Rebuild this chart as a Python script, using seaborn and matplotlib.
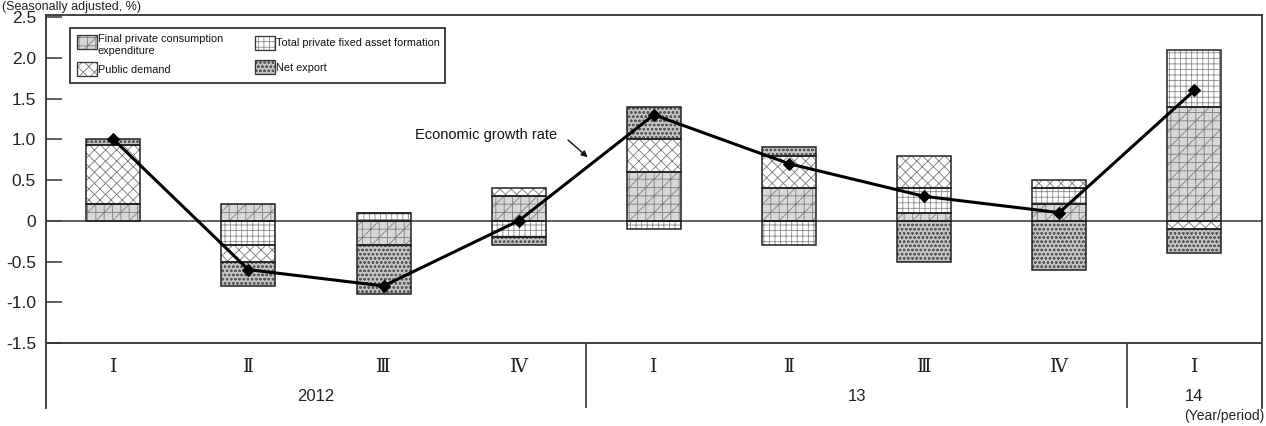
import matplotlib
matplotlib.use("Agg")
import matplotlib.pyplot as plt
from matplotlib.patches import Rectangle
from matplotlib import font_manager
import seaborn as sns
import numpy as np

# Contributions to real GDP growth (quarter on quarter, seasonally adjusted, %)
quarters = ["Ⅰ", "Ⅱ", "Ⅲ", "Ⅳ", "Ⅰ", "Ⅱ", "Ⅲ", "Ⅳ", "Ⅰ"]
years = ["2012", "13", "14"]
year_first_idx = [0, 4, 8]
year_last_idx = [3, 7, 8]

pfce = [0.2, 0.2, -0.3, 0.3, 0.6, 0.4, 0.1, 0.2, 1.4]
fixed_asset = [0.0, -0.3, 0.1, -0.2, -0.1, -0.3, 0.3, 0.2, 0.7]
public_demand = [0.73, -0.2, 0.0, 0.1, 0.4, 0.4, 0.4, 0.1, -0.1]
net_export = [0.07, -0.3, -0.6, -0.1, 0.4, 0.1, -0.5, -0.6, -0.3]
growth = [1.0, -0.6, -0.8, 0.0, 1.3, 0.7, 0.3, 0.1, 1.6]

component_labels = [
    "Final private consumption\nexpenditure",
    "Total private fixed asset formation",
    "Public demand",
    "Net export",
]
ytick_values = [2.5, 2.0, 1.5, 1.0, 0.5, 0.0, -0.5, -1.0, -1.5]
ytick_labels = ["2.5", "2.0", "1.5", "1.0", "0.5", "0", "-0.5", "-1.0", "-1.5"]

sns.set_theme(style="white")
plt.rcParams["font.family"] = ["Liberation Sans", "DejaVu Sans"]
plt.rcParams["hatch.linewidth"] = 0.6

# legend labels use a narrow face when one is available
installed = {f.name for f in font_manager.fontManager.ttflist}
if "Liberation Sans Narrow" in installed:
    legend_family, legend_size = ["Liberation Sans Narrow"], 9.2
else:
    legend_family, legend_size = ["Liberation Sans", "DejaVu Sans"], 7.8

# fill colour, hatch, hatch colour for each component
styles = [
    ("#d8d8d8", "++//", "#808080"),
    ("#ffffff", "+++", "#8a8a8a"),
    ("#ffffff", "xxx", "#7a7a7a"),
    ("#c4c4c4", "oooo", "#5a5a5a"),
]
components = [pfce, fixed_asset, public_demand, net_export]

fig = plt.figure(figsize=(12.66, 4.26), dpi=100)
W, H = 1266, 426
ax = fig.add_axes([45.7 / W, 1 - 408.2 / H, (1262 - 45.7) / W, (408.2 - 15.4) / H])

x = np.arange(len(quarters))
bar_w = 0.4
pos_cum = np.zeros(len(x))
neg_cum = np.zeros(len(x))
for vals, (face, hatch, hcol) in zip(components, styles):
    v = np.array(vals, dtype=float)
    bottom = np.where(v >= 0, pos_cum, neg_cum)
    ax.bar(x, v, bottom=bottom, width=bar_w, color=face, edgecolor=hcol,
           hatch=hatch, linewidth=0, zorder=2)
    ax.bar(x, v, bottom=bottom, width=bar_w, fill=False, edgecolor="#222222",
           linewidth=1.1, zorder=2.2)
    pos_cum = pos_cum + np.where(v >= 0, v, 0)
    neg_cum = neg_cum + np.where(v < 0, v, 0)

ax.axhline(0, color="#444444", lw=1.2, zorder=2.1)

sns.lineplot(x=x, y=growth, ax=ax, color="black", linewidth=2.2, marker="D",
             markersize=6, markeredgecolor="black", zorder=4, legend=False)

ax.set_xlim(-0.5, len(x) - 0.5)
ax.set_ylim(-2.3, 2.52)
ax.set_yticks(ytick_values)
ax.set_yticklabels(ytick_labels, fontsize=12.5, color="#222222")
ax.set_xticks([])
ax.tick_params(axis="y", direction="in", length=11.5, width=1.1,
               color="#333333", pad=7, left=True)
for side in ["left", "right", "top"]:
    ax.spines[side].set_visible(True)
    ax.spines[side].set_color("#333333")
    ax.spines[side].set_linewidth(1.3)
ax.spines["bottom"].set_visible(False)

# period / year label band under the plotting area
ax.axhline(-1.5, color="#333333", lw=1.3)
for last in year_last_idx[:-1]:
    ax.vlines(last + 0.5, -2.3, -1.5, color="#333333", lw=1.2)
for xi, q in zip(x, quarters):
    ax.text(xi, -1.8, q, ha="center", va="center", fontsize=13.5,
            family=["DejaVu Serif", "Noto Sans CJK JP"], color="#222222")
for yr, a, b in zip(years, year_first_idx, year_last_idx):
    ax.text((a + b) / 2, -2.16, yr, ha="center", va="center", fontsize=12,
            color="#222222")

# growth rate call-out
ax.text(2.23, 1.05, "Economic growth rate", ha="left", va="center",
        fontsize=10.5, color="#111111")
ax.annotate("", xy=(3.51, 0.78), xytext=(3.365, 0.99),
            arrowprops=dict(arrowstyle="-|>", color="#111111", lw=1.0,
                            mutation_scale=9, shrinkA=0, shrinkB=0))

# legend box
def fx(px):
    return px / W

def fy(py):
    return 1 - py / H

fig.add_artist(Rectangle((fx(70), fy(83)), fx(445) - fx(70), fy(28) - fy(83),
                         transform=fig.transFigure, fill=False,
                         edgecolor="#222222", lw=1.2, zorder=5))
handle_pos = [(77, 35), (255, 36), (77, 62), (255, 60)]
text_pos = [(98, 45.5), (276, 43), (98, 70), (276, 68)]
for (face, hatch, hcol), (hx, hy), (tx, ty), lab in zip(styles, handle_pos,
                                                        text_pos, component_labels):
    fig.add_artist(Rectangle((fx(hx), fy(hy + 14)), fx(20), 14 / H,
                             transform=fig.transFigure, facecolor=face,
                             edgecolor=hcol, hatch=hatch, lw=0, zorder=5))
    fig.add_artist(Rectangle((fx(hx), fy(hy + 14)), fx(20), 14 / H,
                             transform=fig.transFigure, fill=False,
                             edgecolor="#333333", lw=0.9, zorder=5.1))
    fig.text(fx(tx), fy(ty), lab, ha="left", va="center", fontsize=legend_size,
             family=legend_family, color="#111111", linespacing=1.25, zorder=5)

fig.text(fx(1264), fy(416), "(Year/period)", ha="right", va="center",
         fontsize=10, color="#222222")
fig.text(fx(2), fy(7), "(Seasonally adjusted, %)", ha="left", va="center",
         fontsize=9, color="#222222")

fig.savefig("out.png", dpi=100, facecolor="white")
